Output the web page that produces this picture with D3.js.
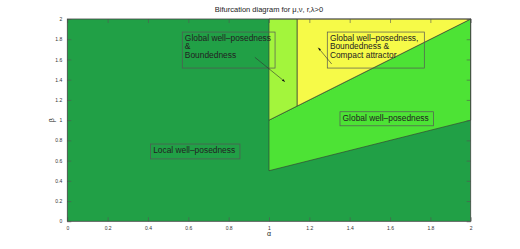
<!DOCTYPE html>
<html>
<head>
<meta charset="utf-8">
<script src="https://cdn.jsdelivr.net/npm/d3@7"></script>
<style>
  body { margin: 0; background: #fff; }
  svg text { font-family: "Liberation Sans", Arial, sans-serif; fill: #222; }
</style>
</head>
<body>
<div id="chart"></div>
<script>
// regions in the (alpha, beta) plane
var localRegion = [[0, 0], [2, 0], [2, 2], [0, 2]];
var globalRegion = [[1, 0.5], [2, 1], [2, 2], [1, 1]];
var boundedRegion = [[1, 1], [1.14, 1.14], [1.14, 2], [1, 2]];
var attractorRegion = [[1.14, 1.14], [2, 2], [1.14, 2]];

var tickValues = [0, 0.2, 0.4, 0.6, 0.8, 1, 1.2, 1.4, 1.6, 1.8, 2];
var tickLabels = ["0", "0.2", "0.4", "0.6", "0.8", "1", "1.2", "1.4", "1.6", "1.8", "2"];

// annotation boxes: [alphaLeft, betaTop, alphaRight, betaBottom]
var noteLines = [
  ["Global well\u2013posedness", "&", "Boundedness"],
  ["Global well\u2013posedness,", "Boundedness &", "Compact attractor"],
  ["Global well\u2013posedness"],
  ["Local well\u2013posedness"]
];
var noteBoxes = [
  [0.57, 1.871, 1.03, 1.515],
  [1.289, 1.871, 1.77, 1.515],
  [1.352, 1.083, 1.815, 0.944],
  [0.413, 0.764, 0.856, 0.617]
];
// arrows: [fromAlpha, fromBeta, toAlpha, toBeta]
var arrows = [
  [0.93, 1.621, 1.079, 1.38],
  [1.311, 1.555, 1.244, 1.716]
];

var svg_width = 520, svg_height = 249;
var margins = {top: 19, bottom: 27.7, left: 67.3, right: 49.3};
var width = svg_width - margins.left - margins.right;
var height = svg_height - margins.top - margins.bottom;

var svg = d3.select("#chart").append("svg")
  .attr("width", svg_width)
  .attr("height", svg_height);

var g = svg.append("g")
  .attr("transform", "translate(" + margins.left + "," + margins.top + ")");

var x = d3.scaleLinear().domain([0, 2]).range([0, width]);
var y = d3.scaleLinear().domain([0, 2]).range([height, 0]);

var line = d3.line().x(d => x(d[0])).y(d => y(d[1]));

var regions = [
  {pts: localRegion, fill: "#21a046"},
  {pts: globalRegion, fill: "#4de335"},
  {pts: boundedRegion, fill: "#a3f53c"},
  {pts: attractorRegion, fill: "#f6fa48"}
];

g.selectAll("path.region")
  .data(regions)
  .enter().append("path")
  .attr("class", "region")
  .attr("d", d => line(d.pts) + "Z")
  .style("fill", d => d.fill)
  .style("stroke", (d, i) => i == 0 ? "none" : "#333")
  .style("stroke-width", 0.6);

// ticks (inward, mirrored on all four sides)
var tickLen = 4;
g.append("g").attr("transform", "translate(0," + height + ")")
  .call(d3.axisBottom(x).tickValues(tickValues).tickSize(-tickLen).tickPadding(5)
    .tickFormat((d, i) => tickLabels[i]))
  .call(a => a.select(".domain").remove());
g.append("g")
  .call(d3.axisTop(x).tickValues(tickValues).tickSize(-tickLen).tickFormat(""))
  .call(a => a.select(".domain").remove());
g.append("g")
  .call(d3.axisLeft(y).tickValues(tickValues).tickSize(-tickLen).tickPadding(5)
    .tickFormat((d, i) => tickLabels[i]))
  .call(a => a.select(".domain").remove());
g.append("g").attr("transform", "translate(" + width + ",0)")
  .call(d3.axisRight(y).tickValues(tickValues).tickSize(-tickLen).tickFormat(""))
  .call(a => a.select(".domain").remove());

g.selectAll(".tick line").style("stroke", "#555").style("stroke-width", 0.6);
g.selectAll(".tick text").style("font-size", "5px").style("fill", "#333");

g.append("rect")
  .attr("width", width)
  .attr("height", height)
  .style("fill", "none")
  .style("stroke", "#444")
  .style("stroke-width", 0.8);

// annotation boxes
var notes = g.selectAll("g.note")
  .data(noteBoxes)
  .enter().append("g")
  .attr("class", "note");

notes.append("rect")
  .attr("x", d => x(d[0]))
  .attr("y", d => y(d[1]))
  .attr("width", d => x(d[2]) - x(d[0]))
  .attr("height", d => y(d[3]) - y(d[1]))
  .style("fill", "none")
  .style("stroke", "#555")
  .style("stroke-width", 0.7);

notes.each(function(d, i) {
  var lines = noteLines[i];
  var t = d3.select(this).append("text")
    .attr("x", x(d[0]) + 2.6)
    .attr("y", y(d[1]) + 8.8)
    .style("font-size", "8.4px");
  t.selectAll("tspan")
    .data(lines)
    .enter().append("tspan")
    .attr("x", x(d[0]) + 2.6)
    .attr("dy", (l, j) => j == 0 ? 0 : 8.5)
    .text(l => l);
});

// arrows
svg.append("defs").append("marker")
  .attr("id", "head")
  .attr("viewBox", "0 0 10 10")
  .attr("refX", 10).attr("refY", 5)
  .attr("markerWidth", 5).attr("markerHeight", 5)
  .attr("orient", "auto")
  .append("path")
  .attr("d", "M0,1.5L10,5L0,8.5Z")
  .style("fill", "#111");

g.selectAll("line.arrow")
  .data(arrows)
  .enter().append("line")
  .attr("class", "arrow")
  .attr("x1", d => x(d[0])).attr("y1", d => y(d[1]))
  .attr("x2", d => x(d[2])).attr("y2", d => y(d[3]))
  .style("stroke", "#333")
  .style("stroke-width", 0.6)
  .attr("marker-end", "url(#head)");

// labels
svg.append("text")
  .attr("x", margins.left + width / 2)
  .attr("y", 12)
  .attr("text-anchor", "middle")
  .style("font-size", "7.5px")
  .text("Bifurcation diagram for \u03bc,\u03bd, r,\u03bb>0");

svg.append("text")
  .attr("x", margins.left + width / 2)
  .attr("y", 236)
  .attr("text-anchor", "middle")
  .style("font-size", "7px")
  .text("\u03b1");

svg.append("text")
  .attr("transform", "translate(54," + (margins.top + height / 2) + ") rotate(-90)")
  .attr("text-anchor", "middle")
  .style("font-size", "7px")
  .text("\u03b2");
</script>
</body>
</html>
